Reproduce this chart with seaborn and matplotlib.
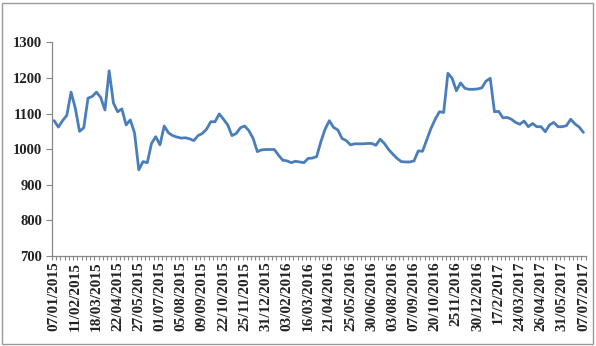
import matplotlib
matplotlib.use("Agg")
import matplotlib.pyplot as plt
import matplotlib.patches as mpatches
import seaborn as sns
import pandas as pd
import numpy as np

# Weekly values
values = [
    1080, 1062, 1080, 1095, 1160, 1115, 1050, 1060, 1143, 1148,
    1160, 1145, 1110, 1220, 1130, 1105, 1113, 1068, 1082, 1045,
    942, 965, 962, 1016, 1035, 1012, 1065, 1046, 1038, 1034,
    1031, 1032, 1029, 1024, 1038, 1044, 1056, 1077, 1077, 1099,
    1084, 1068, 1038, 1044, 1060, 1065, 1052, 1030, 993, 998,
    999, 999, 999, 983, 969, 967, 962, 966, 964, 962,
    974, 975, 979, 1021, 1056, 1080, 1061, 1054, 1030, 1024,
    1012, 1015, 1015, 1015, 1016, 1016, 1011, 1028, 1016, 999,
    986, 974, 965, 964, 964, 967, 995, 994, 1026, 1058,
    1084, 1105, 1103, 1213, 1199, 1164, 1186, 1171, 1168, 1168,
    1169, 1172, 1191, 1199, 1105, 1106, 1088, 1089, 1084, 1075,
    1070, 1079, 1063, 1072, 1063, 1063, 1049, 1068, 1075, 1063,
    1063, 1066, 1084, 1071, 1062, 1047,
]

# Tick labels shown every 5th category
tick_labels = [
    "07/01/2015", "11/02/2015", "18/03/2015", "22/04/2015", "27/05/2015",
    "01/07/2015", "05/08/2015", "09/09/2015", "22/10/2015", "25/11/2015",
    "31/12/2015", "03/02/2016", "16/03/2016", "21/04/2016", "25/05/2016",
    "30/06/2016", "03/08/2016", "07/09/2016", "20/10/2016", "2511/2016",
    "30/12/2016", "17/2/2017", "24/03/2017", "26/04/2017", "31/05/2017",
    "07/07/2017",
]
label_step = 5

y_ticks = [700, 800, 900, 1000, 1100, 1200, 1300]

df = pd.DataFrame({"idx": np.arange(len(values)), "value": values})

sns.set_theme(style="white")
plt.rcParams["font.family"] = ["Liberation Serif", "DejaVu Serif"]

fig = plt.figure(figsize=(5.96, 3.46), dpi=100)
ax = fig.add_axes([52 / 596, 1 - 256 / 346, (585.5 - 52) / 596, (256 - 42.3) / 346])

sns.lineplot(data=df, x="idx", y="value", ax=ax, color="#4A7EBB", linewidth=2.0)

ax.set_xlim(-0.5, len(values) - 0.5)
ax.set_ylim(y_ticks[0], y_ticks[-1])
ax.set_yticks(y_ticks)
ax.set_yticklabels([str(v) for v in y_ticks], fontsize=10.5, fontweight="bold", color="#222222")

major = np.arange(0, len(values), label_step)
ax.set_xticks(major)
ax.set_xticklabels(tick_labels, rotation=90, fontsize=11, fontweight="bold", color="#222222")
ax.set_xticks(np.arange(len(values) + 1) - 0.5, minor=True)
ax.tick_params(axis="x", which="major", length=0, pad=4)
ax.tick_params(axis="x", which="minor", length=3, width=0.8, color="#888888", bottom=True)
ax.tick_params(axis="y", which="major", length=4, width=0.8, color="#888888", left=True, pad=3)

ax.set_xlabel("")
ax.set_ylabel("")
ax.grid(False)
for s in ["top", "right"]:
    ax.spines[s].set_visible(False)
for s in ["left", "bottom"]:
    ax.spines[s].set_color("#888888")
    ax.spines[s].set_linewidth(0.9)

# chart border
fig.patches.append(mpatches.Rectangle((2 / 596, 2 / 346), 591 / 596, 341 / 346,
                                      transform=fig.transFigure, fill=False,
                                      edgecolor="#9a9a9a", linewidth=1.0))

fig.savefig("out.png", dpi=100)
